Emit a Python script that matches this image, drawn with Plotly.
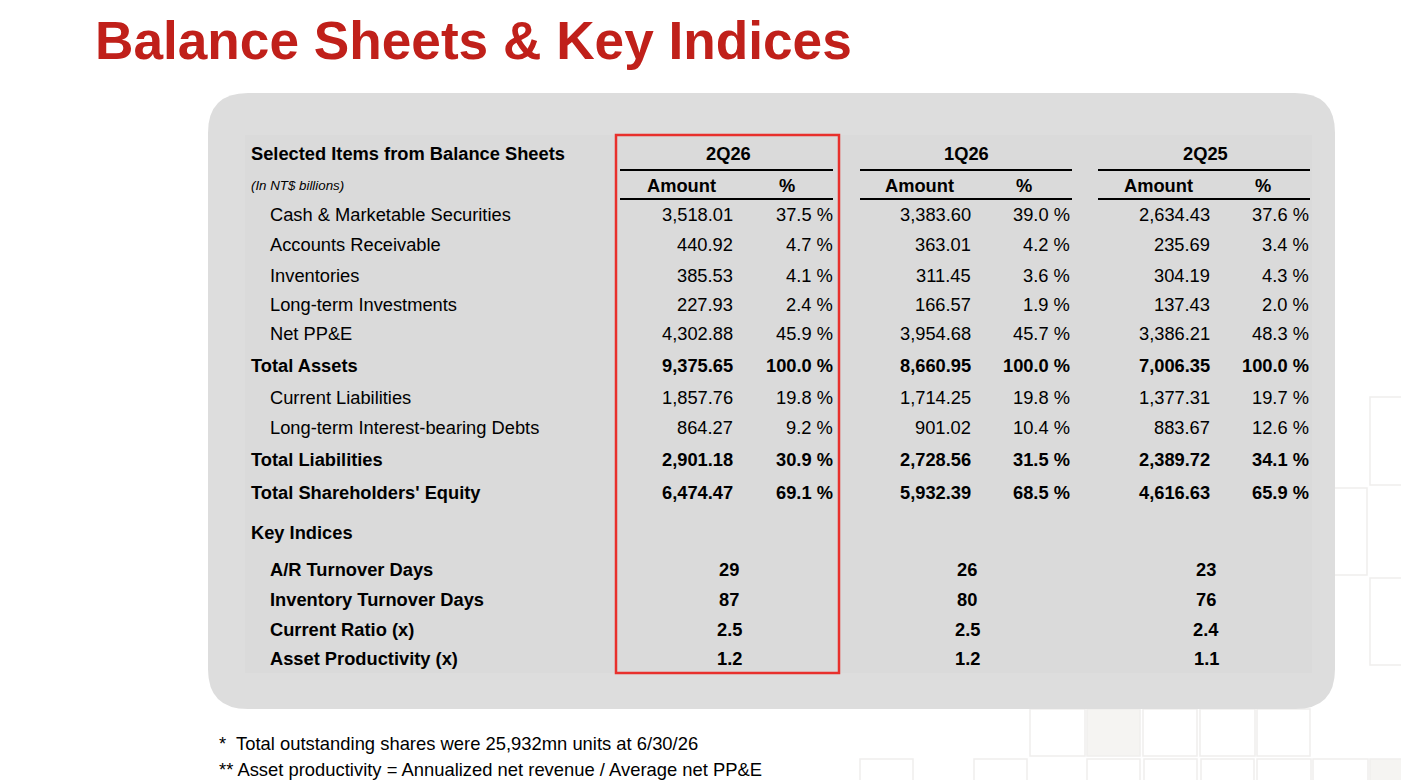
import plotly.graph_objects as go

FONT = "Liberation Sans, Arial, sans-serif"

# ---- data ----
items = ["Cash & Marketable Securities", "Accounts Receivable", "Inventories",
         "Long-term Investments", "Net PP&E", "Total Assets", "Current Liabilities",
         "Long-term Interest-bearing Debts", "Total Liabilities",
         "Total Shareholders' Equity"]
is_total = [False, False, False, False, False, True, False, False, True, True]

periods = ["2Q26", "1Q26", "2Q25"]
amt_2q26 = [3518.01, 440.92, 385.53, 227.93, 4302.88, 9375.65, 1857.76, 864.27, 2901.18, 6474.47]
pct_2q26 = [37.5, 4.7, 4.1, 2.4, 45.9, 100.0, 19.8, 9.2, 30.9, 69.1]
amt_1q26 = [3383.60, 363.01, 311.45, 166.57, 3954.68, 8660.95, 1714.25, 901.02, 2728.56, 5932.39]
pct_1q26 = [39.0, 4.2, 3.6, 1.9, 45.7, 100.0, 19.8, 10.4, 31.5, 68.5]
amt_2q25 = [2634.43, 235.69, 304.19, 137.43, 3386.21, 7006.35, 1377.31, 883.67, 2389.72, 4616.63]
pct_2q25 = [37.6, 3.4, 4.3, 2.0, 48.3, 100.0, 19.7, 12.6, 34.1, 65.9]

indices = ["A/R Turnover Days", "Inventory Turnover Days", "Current Ratio (x)",
           "Asset Productivity (x)"]
idx_fmt = ["{:.0f}", "{:.0f}", "{:.1f}", "{:.1f}"]
idx_2q26 = [29, 87, 2.5, 1.2]
idx_1q26 = [26, 80, 2.5, 1.2]
idx_2q25 = [23, 76, 2.4, 1.1]

footnotes = ["*  Total outstanding shares were 25,932mn units at 6/30/26",
             "** Asset productivity = Annualized net revenue / Average net PP&E"]

# ---- layout constants (pixel coordinates on the axes) ----
row_y = [214.5, 244.5, 275.5, 304.5, 333.5, 365.5, 397.5, 427.5, 459.5, 492.5]
idx_y = [569.5, 599.5, 629.5, 658.5]
col_amt_right = [735, 973, 1212]
col_pct_right = [835, 1072, 1311]
col_center = [728, 966, 1205]
col_lines = [(620, 833), (860, 1072), (1098, 1310)]

amounts = [amt_2q26, amt_1q26, amt_2q25]
pcts = [pct_2q26, pct_1q26, pct_2q25]
idx_vals = [idx_2q26, idx_1q26, idx_2q25]

# the page body has an 8px margin, so the plot starts at (8, 8)
OFF = 8

fig = go.Figure()
fig.add_trace(go.Scatter(x=[OFF, 1409], y=[OFF, 780], mode="markers",
                         marker=dict(opacity=0), hoverinfo="skip", showlegend=False))

shapes = []

# faint decorative squares in the background
squares = [(1030, 709, 1085, 756, False), (1087, 709, 1140, 756, True),
           (1143, 709, 1197, 756, False), (1200, 709, 1255, 756, False),
           (1257, 709, 1310, 756, False),
           (860, 759, 913, 800, False), (974, 759, 1027, 800, False),
           (1087, 759, 1140, 800, False), (1144, 759, 1197, 800, False),
           (1201, 759, 1254, 800, False), (1257, 759, 1311, 800, False),
           (1313, 759, 1368, 800, False), (1370, 759, 1420, 800, True),
           (1370, 397, 1420, 485, False), (1280, 488, 1367, 575, False),
           (1370, 578, 1420, 665, False)]
for x0, y0, x1, y1, filled in squares:
    shapes.append(dict(type="rect", xref="x", yref="y", x0=x0, y0=y0, x1=x1, y1=y1,
                       line=dict(color="#f0eeed", width=1.5),
                       fillcolor="#f5f4f2" if filled else "rgba(0,0,0,0)", layer="below"))

# rounded grey panel
l, t, r, b, rad = 208, 93, 1335, 709, 40
path = (f"M {l+rad},{t} L {r-rad},{t} Q {r},{t} {r},{t+rad} L {r},{b-rad} "
        f"Q {r},{b} {r-rad},{b} L {l+rad},{b} Q {l},{b} {l},{b-rad} "
        f"L {l},{t+rad} Q {l},{t} {l+rad},{t} Z")
shapes.append(dict(type="path", xref="x", yref="y", path=path,
                   fillcolor="#dddddd", line=dict(width=0), layer="below"))
shapes.append(dict(type="rect", xref="x", yref="y", x0=245, y0=135, x1=1312, y1=673,
                   fillcolor="#dadada", line=dict(width=0), layer="below"))

# header rules
for x0, x1 in col_lines:
    for yy in (170, 199):
        shapes.append(dict(type="line", xref="x", yref="y", x0=x0, x1=x1, y0=yy, y1=yy,
                           line=dict(color="#000000", width=2)))

# red highlight box around the latest quarter
shapes.append(dict(type="rect", xref="x", yref="y", x0=616, y0=135, x1=839, y1=673,
                   line=dict(color="#e8302c", width=2.5), fillcolor="rgba(0,0,0,0)"))

ann = []


def txt(x, y, s, anchor="left", size=18.3, bold=False, italic=False, color="#000000"):
    ann.append(dict(x=x, y=y, xref="x", yref="y", text=s, showarrow=False,
                    xanchor=anchor, yanchor="middle",
                    font=dict(family=FONT, size=size, color=color,
                              weight="bold" if bold else "normal",
                              style="italic" if italic else "normal")))


# title
ann.append(dict(x=93, y=40, xref="x", yref="y", text="Balance Sheets & Key Indices",
                showarrow=False, xanchor="left", yanchor="middle",
                font=dict(family=FONT, size=53.2, color="#c0201a", weight="bold")))

txt(249, 153.5, "Selected Items from Balance Sheets", bold=True)
txt(249, 185.5, "(In NT$ billions)", size=13.3, italic=True)

for i, p in enumerate(periods):
    txt(col_center[i], 153.5, p, anchor="center", bold=True)
    txt(col_amt_right[i] - 54, 185.5, "Amount", anchor="center", bold=True)
    txt(col_pct_right[i] - 48, 185.5, "%", anchor="center", bold=True)

for k, name in enumerate(items):
    bold = is_total[k]
    txt(249 if bold else 268, row_y[k], name, bold=bold)
    for i in range(len(periods)):
        txt(col_amt_right[i], row_y[k], f"{amounts[i][k]:,.2f}", anchor="right", bold=bold)
        txt(col_pct_right[i], row_y[k], f"{pcts[i][k]:.1f} %", anchor="right", bold=bold)

txt(249, 532.5, "Key Indices", bold=True)
for k, name in enumerate(indices):
    txt(268, idx_y[k], name, bold=True)
    for i in range(len(periods)):
        txt(col_center[i] + 1, idx_y[k], idx_fmt[k].format(idx_vals[i][k]),
            anchor="center", bold=True)

txt(217, 743, footnotes[0], size=18.4)
txt(217, 769, footnotes[1], size=18.4)

fig.update_layout(
    width=1409 - OFF, height=780 - OFF,
    margin=dict(l=0, r=0, t=0, b=0),
    paper_bgcolor="#ffffff", plot_bgcolor="#ffffff",
    xaxis=dict(range=[OFF, 1409], visible=False, fixedrange=True),
    yaxis=dict(range=[780, OFF], visible=False, fixedrange=True),
    shapes=shapes, annotations=ann, showlegend=False,
)

fig.write_html("out.html")
